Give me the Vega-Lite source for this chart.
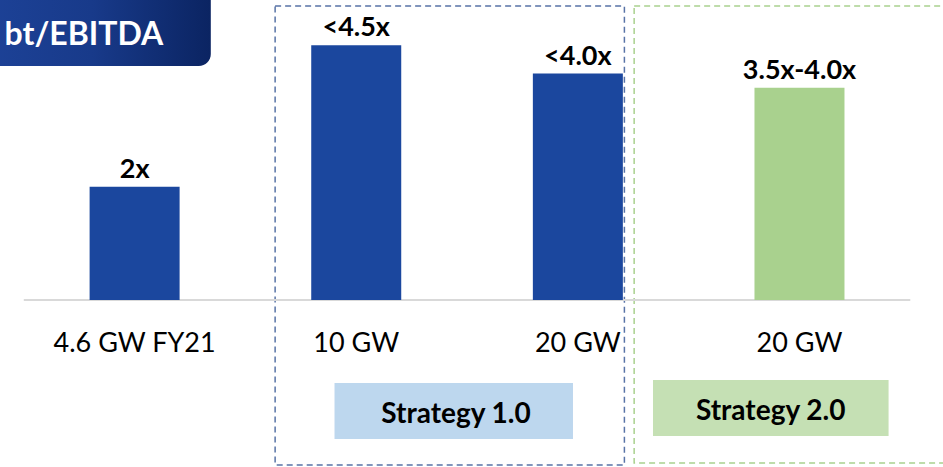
{
  "$schema": "https://vega.github.io/schema/vega-lite/v6.json",
  "width": 943,
  "height": 467,
  "padding": 0,
  "autosize": {"type": "none"},
  "background": "white",
  "config": {"view": {"stroke": null}, "font": "Lato"},
  "datasets": {
    "bars": [
      {"slot": 1, "category": "4.6 GW FY21", "value": 2.0, "label": "2x", "scenario": "Current"},
      {"slot": 2, "category": "10 GW", "value": 4.5, "label": "<4.5x", "scenario": "Strategy 1.0"},
      {"slot": 3, "category": "20 GW", "value": 4.0, "label": "<4.0x", "scenario": "Strategy 1.0"},
      {"slot": 4, "category": "20 GW", "value": 3.75, "label": "3.5x-4.0x", "scenario": "Strategy 2.0"}
    ]
  },
  "data": {"name": "bars"},
  "encoding": {
    "x": {"type": "quantitative", "scale": {"domain": [0.4152, 4.625], "nice": false, "zero": false}, "axis": null},
    "y": {"type": "quantitative", "scale": {"domain": [-2.95, 5.3], "nice": false, "zero": false}, "axis": null}
  },
  "layer": [
    {
      "data": {"values": [{"title": "bt/EBITDA"}]},
      "mark": {"type": "rect", "clip": true, "cornerRadius": 12,
        "color": {"gradient": "linear", "x1": 0, "y1": 0, "x2": 1, "y2": 0,
          "stops": [{"offset": 0, "color": "#2047a0"}, {"offset": 0.6, "color": "#183a8a"}, {"offset": 1, "color": "#0b2462"}]}},
      "encoding": {"x": {"datum": 0.0}, "x2": {"datum": 1.3438}, "y": {"datum": 5.6}, "y2": {"datum": 4.134}}
    },
    {
      "data": {"values": [{"title": "bt/EBITDA"}]},
      "mark": {"type": "text", "clip": true, "align": "right", "baseline": "alphabetic", "fontSize": 32, "fontWeight": "bold", "color": "white"},
      "encoding": {"x": {"datum": 1.1295}, "y": {"datum": 4.5}, "text": {"field": "title"}}
    },
    {
      "data": {"values": [{"frame": "Strategy 1.0"}]},
      "mark": {"type": "rect", "clip": true, "fill": null, "fillOpacity": 0, "stroke": "#5873a6", "strokeWidth": 1.5, "strokeDash": [6, 4]},
      "encoding": {"x": {"datum": 1.634}, "x2": {"datum": 3.21}, "y": {"datum": 5.194}, "y2": {"datum": -2.915}}
    },
    {
      "data": {"values": [{"frame": "Strategy 2.0"}]},
      "mark": {"type": "rect", "clip": true, "fill": null, "fillOpacity": 0, "stroke": "#a9d18e", "strokeWidth": 1.5, "strokeDash": [6, 4]},
      "encoding": {"x": {"datum": 3.254}, "x2": {"datum": 5.0}, "y": {"datum": 5.194}, "y2": {"datum": -2.88}}
    },
    {
      "data": {"values": [{"name": "Strategy  1.0"}]},
      "mark": {"type": "rect", "clip": true, "color": "#bdd7ee"},
      "encoding": {"x": {"datum": 1.902}, "x2": {"datum": 2.978}, "y": {"datum": -1.466}, "y2": {"datum": -2.456}}
    },
    {
      "data": {"values": [{"name": "Strategy  2.0"}]},
      "mark": {"type": "rect", "clip": true, "color": "#c5e0b4"},
      "encoding": {"x": {"datum": 3.339}, "x2": {"datum": 4.402}, "y": {"datum": -1.413}, "y2": {"datum": -2.403}}
    },
    {
      "data": {"values": [{"name": "Strategy  1.0"}]},
      "mark": {"type": "text", "clip": true, "align": "center", "baseline": "alphabetic", "fontSize": 28, "fontWeight": "bold", "color": "black"},
      "encoding": {"x": {"datum": 2.45}, "y": {"datum": -2.173}, "text": {"field": "name"}}
    },
    {
      "data": {"values": [{"name": "Strategy  2.0"}]},
      "mark": {"type": "text", "clip": true, "align": "center", "baseline": "alphabetic", "fontSize": 28, "fontWeight": "bold", "color": "black"},
      "encoding": {"x": {"datum": 3.87}, "y": {"datum": -2.12}, "text": {"field": "name"}}
    },
    {
      "data": {"values": [{"line": "baseline"}]},
      "mark": {"type": "rule", "clip": true, "color": "#d9d9d9", "strokeWidth": 2},
      "encoding": {"x": {"datum": 0.5}, "x2": {"datum": 4.5}, "y": {"datum": 0}}
    },
    {
      "mark": {"type": "bar", "clip": true, "size": 90},
      "encoding": {
        "x": {"field": "slot", "type": "quantitative"},
        "y": {"field": "value", "type": "quantitative"},
        "y2": {"datum": 0},
        "color": {"field": "scenario", "type": "nominal", "scale": {"domain": ["Current", "Strategy 1.0", "Strategy 2.0"], "range": ["#1b479e", "#1b479e", "#a9d18e"]}, "legend": null}
      }
    },
    {
      "mark": {"type": "text", "clip": true, "align": "center", "baseline": "alphabetic", "dy": -9, "fontSize": 27, "fontWeight": "bold", "color": "black"},
      "encoding": {
        "x": {"field": "slot", "type": "quantitative"},
        "y": {"field": "value", "type": "quantitative"},
        "text": {"field": "label"}
      }
    },
    {
      "mark": {"type": "text", "clip": true, "align": "center", "baseline": "alphabetic", "fontSize": 27, "color": "black"},
      "encoding": {
        "x": {"field": "slot", "type": "quantitative"},
        "y": {"datum": -0.92},
        "text": {"field": "category"}
      }
    }
  ]
}
